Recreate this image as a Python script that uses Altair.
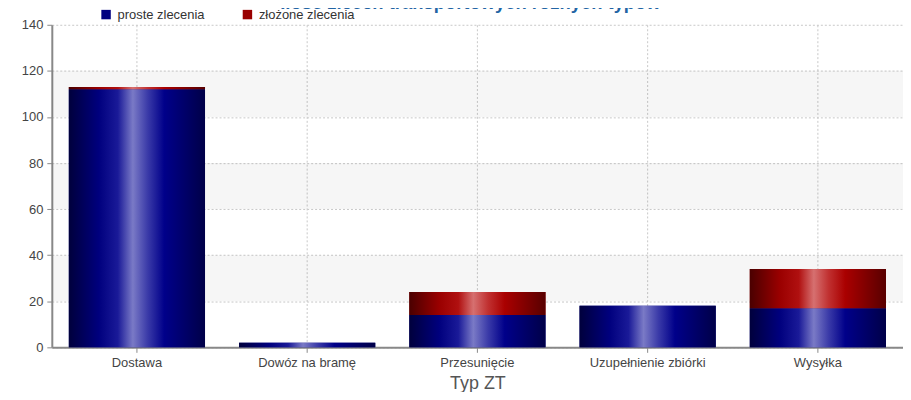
import altair as alt
import pandas as pd

categories = ["Dostawa", "Dowóz na bramę", "Przesunięcie", "Uzupełnienie zbiórki", "Wysyłka"]
proste = [112, 2, 14, 18, 17]
zlozone = [1, 0, 10, 0, 17]
series_names = ["proste zlecenia", "złożone zlecenia"]
y_ticks = [0, 20, 40, 60, 80, 100, 120, 140]
band_starts = [20, 60, 100]
band_ends = [40, 80, 120]

rows = []
for c, p, z in zip(categories, proste, zlozone):
    rows.append({"cat": c, "series": series_names[0], "y0": 0, "y1": p})
    rows.append({"cat": c, "series": series_names[1], "y0": p, "y1": p + z})
df = pd.DataFrame(rows)
bands = pd.DataFrame({"b0": band_starts, "b1": band_ends})

FONT = "Liberation Sans"

blue_grad = alt.LinearGradient(
    gradient="linear", x1=0, x2=1, y1=0, y2=0,
    stops=[
        alt.GradientStop(offset=0.0, color="#00003c"),
        alt.GradientStop(offset=0.22, color="#00007e"),
        alt.GradientStop(offset=0.36, color="#1a1a98"),
        alt.GradientStop(offset=0.47, color="#7a7ac6"),
        alt.GradientStop(offset=0.58, color="#3a3aa8"),
        alt.GradientStop(offset=0.7, color="#00008a"),
        alt.GradientStop(offset=1.0, color="#000048"),
    ],
)
red_grad = alt.LinearGradient(
    gradient="linear", x1=0, x2=1, y1=0, y2=0,
    stops=[
        alt.GradientStop(offset=0.0, color="#4a0000"),
        alt.GradientStop(offset=0.22, color="#9a0000"),
        alt.GradientStop(offset=0.36, color="#b01010"),
        alt.GradientStop(offset=0.47, color="#d67070"),
        alt.GradientStop(offset=0.58, color="#c03030"),
        alt.GradientStop(offset=0.7, color="#aa0000"),
        alt.GradientStop(offset=1.0, color="#580000"),
    ],
)

x_enc = alt.X(
    "cat:N",
    sort=categories,
    scale=alt.Scale(paddingInner=0.2, paddingOuter=0.1),
    axis=alt.Axis(
        title="Typ ZT", labelAngle=0, grid=True, bandPosition=0.5,
        titleFontSize=18, titleFontWeight="normal", titleColor="#555555",
        titleFont=FONT, titlePadding=5,
    ),
)
y_scale = alt.Scale(domain=[0, 140], nice=False)

band_layer = alt.Chart(bands).mark_rect(color="#000000", opacity=0.035).encode(
    x=alt.value(0),
    x2=alt.value("width"),
    y=alt.Y("b0:Q", scale=y_scale),
    y2="b1:Q",
)

base = alt.Chart(df).encode(x=x_enc)

legend_layer = base.mark_bar().encode(
    y=alt.Y("y1:Q", scale=y_scale, axis=alt.Axis(values=y_ticks, title=None, grid=True)),
    y2="y0:Q",
    color=alt.Color(
        "series:N",
        scale=alt.Scale(domain=series_names, range=["#000080", "#990000"]),
        legend=alt.Legend(
            title=None, orient="none", legendX=48, legendY=-17,
            direction="horizontal", symbolType="square", symbolSize=90,
            symbolStrokeWidth=0, labelFontSize=13, labelColor="#333333",
            labelFont=FONT, labelOffset=5, columnPadding=36,
        ),
    ),
)

blue_layer = base.transform_filter(
    alt.datum.series == series_names[0]
).mark_bar(fill=blue_grad).encode(y=alt.Y("y1:Q", scale=y_scale), y2="y0:Q")

red_layer = base.transform_filter(
    alt.datum.series == series_names[1]
).mark_bar(fill=red_grad).encode(y=alt.Y("y1:Q", scale=y_scale), y2="y0:Q")

chart = alt.layer(band_layer, legend_layer, blue_layer, red_layer).properties(
    width=855,
    height=324,
    background="white",
    title=alt.TitleParams(
        "Ilość zleceń transportowych różnych typów",
        fontSize=18.5, fontWeight="bold", color="#2264a4", font=FONT,
        anchor="middle", offset=-4.5, dx=-7,
    ),
    autosize=alt.AutoSizeParams(type="none"),
    padding={"left": 44, "top": 16, "right": 0, "bottom": 44},
).configure_view(stroke=None).configure_axis(
    domainColor="#888888", domainWidth=2, tickColor="#888888", tickSize=5,
    labelColor="#444444", labelFontSize=13, labelFont=FONT, labelPadding=4,
    gridColor="#c8c8c8", gridDash=[2, 2], gridWidth=1,
)

chart.save("out.html", embed_options={"renderer": "svg", "actions": False})
